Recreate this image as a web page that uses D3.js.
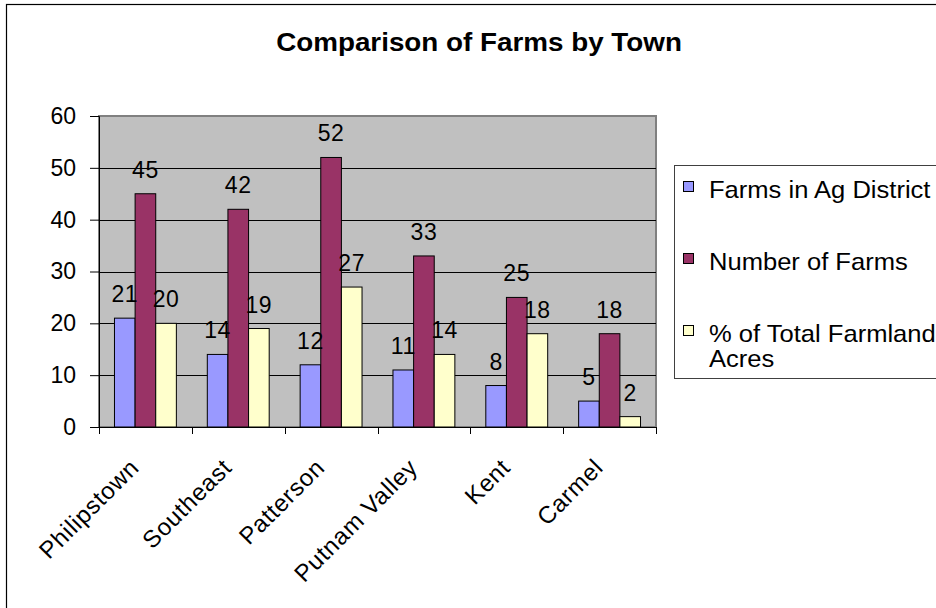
<!DOCTYPE html>
<html>
<head>
<meta charset="utf-8">
<script src="https://cdn.jsdelivr.net/npm/d3@7"></script>
<style>
  body { margin: 0; background: #fff; }
  svg { display: block; font-family: "Liberation Sans", Arial, sans-serif; }
</style>
</head>
<body>
<svg id="chart"></svg>
<script>
// towns and the three series per town
const towns = ["Philipstown", "Southeast", "Patterson", "Putnam Valley", "Kent", "Carmel"];
const seriesNames = ["Farms in Ag District", "Number of Farms", "% of Total Farmland Acres"];
const farmsInAgDistrict = [21, 14, 12, 11, 8, 5];
const numberOfFarms = [45, 42, 52, 33, 25, 18];
const pctFarmlandAcres = [20, 19, 27, 14, 18, 2];
const yTicks = [0, 10, 20, 30, 40, 50, 60];

const colors = ["#9999FF", "#993366", "#FFFFCC"];

const width = 936, height = 608;
const plot = {left: 99, right: 656, top: 116, bottom: 427};

const svg = d3.select("#chart")
  .attr("width", width)
  .attr("height", height);

// chart area border (runs off the right and bottom edges)
svg.append("rect")
  .attr("x", 6.5).attr("y", 4.5)
  .attr("width", 1000).attr("height", 1000)
  .attr("fill", "#fff")
  .attr("stroke", "#000")
  .attr("stroke-width", 1.2);

// title, a bit wide like the old GDI text
svg.append("text")
  .attr("transform", "translate(479,51) scale(1.07,1)")
  .attr("text-anchor", "middle")
  .style("font-size", "26px")
  .style("font-weight", "bold")
  .text("Comparison of Farms by Town");

const x0 = d3.scaleBand()
  .domain(towns)
  .range([plot.left, plot.right]);

// gap width 150% -> each bar is 1/4.5 of the category
const bw = x0.bandwidth();
const pad = bw * 0.75 / 4.5;
const x1 = d3.scaleBand()
  .domain(d3.range(seriesNames.length))
  .range([pad, bw - pad]);

const y = d3.scaleLinear()
  .domain([0, 60])
  .range([plot.bottom, plot.top]);

// plot area
svg.append("rect")
  .attr("x", plot.left).attr("y", plot.top)
  .attr("width", plot.right - plot.left)
  .attr("height", plot.bottom - plot.top)
  .attr("fill", "#C0C0C0")
  .attr("stroke", "#808080")
  .attr("stroke-width", 2);

// gridlines
svg.append("g")
  .selectAll("line")
  .data(yTicks.filter(d => d > 0 && d < 60))
  .join("line")
  .attr("x1", plot.left).attr("x2", plot.right)
  .attr("y1", d => Math.round(y(d)) + 0.5)
  .attr("y2", d => Math.round(y(d)) + 0.5)
  .attr("stroke", "#000")
  .attr("stroke-width", 1);

// y axis
const yAxis = svg.append("g")
  .attr("transform", `translate(${plot.left},0)`)
  .call(d3.axisLeft(y).tickValues(yTicks).tickSize(9).tickPadding(14));
yAxis.select(".domain").attr("stroke", "#000");
yAxis.selectAll(".tick line").attr("stroke", "#000");
yAxis.selectAll(".tick text")
  .attr("fill", "#000")
  .style("font-family", "'Liberation Sans', Arial, sans-serif")
  .style("font-size", "23px");

// category axis: ticks on boundaries
const xAxisG = svg.append("g");
xAxisG.append("line")
  .attr("x1", plot.left).attr("x2", plot.right)
  .attr("y1", plot.bottom + 0.5).attr("y2", plot.bottom + 0.5)
  .attr("stroke", "#000");
xAxisG.selectAll("line.tk")
  .data(towns.concat(["end"]))
  .join("line")
  .attr("class", "tk")
  .attr("x1", (d, i) => Math.round(plot.left + i * bw) + 0.5)
  .attr("x2", (d, i) => Math.round(plot.left + i * bw) + 0.5)
  .attr("y1", plot.bottom).attr("y2", plot.bottom + 7)
  .attr("stroke", "#000");

xAxisG.selectAll("text")
  .data(towns)
  .join("text")
  .attr("text-anchor", "end")
  .attr("transform", d => `translate(${x0(d) + bw / 2 - 5},${plot.bottom + 42}) rotate(-45)`)
  .style("font-size", "24px")
  .style("letter-spacing", "0.7px")
  .text(d => d);

// bars
const table = towns.map((t, i) => ({
  town: t,
  values: [farmsInAgDistrict[i], numberOfFarms[i], pctFarmlandAcres[i]]
}));

const groups = svg.append("g")
  .selectAll("g")
  .data(table)
  .join("g")
  .attr("transform", d => `translate(${x0(d.town)},0)`);

groups.selectAll("rect")
  .data(d => d.values)
  .join("rect")
  .attr("x", (d, i) => x1(i))
  .attr("y", d => y(d))
  .attr("width", x1.bandwidth())
  .attr("height", d => y(0) - y(d))
  .attr("fill", (d, i) => colors[i])
  .attr("stroke", "#000")
  .attr("stroke-width", 1);

groups.selectAll("text")
  .data(d => d.values)
  .join("text")
  .attr("x", (d, i) => x1(i) + x1.bandwidth() / 2)
  .attr("y", d => y(d) - 16)
  .attr("text-anchor", "middle")
  .style("font-size", "23px")
  .style("letter-spacing", "0.6px")
  .text(d => d);

// legend
const legend = svg.append("g");
legend.append("rect")
  .attr("x", 674.5).attr("y", 165.5)
  .attr("width", 300).attr("height", 213)
  .attr("fill", "#fff")
  .attr("stroke", "#404040");

const legendRows = [
  {lines: ["Farms in Ag District"], base: 198},
  {lines: ["Number of Farms"], base: 270},
  {lines: ["% of Total Farmland", "Acres"], base: 342}
];

legendRows.forEach((r, i) => {
  legend.append("rect")
    .attr("x", 683.5).attr("y", r.base - 16.5)
    .attr("width", 10).attr("height", 10)
    .attr("fill", colors[i])
    .attr("stroke", "#000");
  const t = legend.append("text")
    .attr("transform", `translate(709,${r.base}) scale(1.065,1)`)
    .style("font-size", "24px");
  r.lines.forEach((ln, j) => {
    t.append("tspan")
      .attr("x", 0)
      .attr("dy", j === 0 ? 0 : 25)
      .text(ln);
  });
});
</script>
</body>
</html>
